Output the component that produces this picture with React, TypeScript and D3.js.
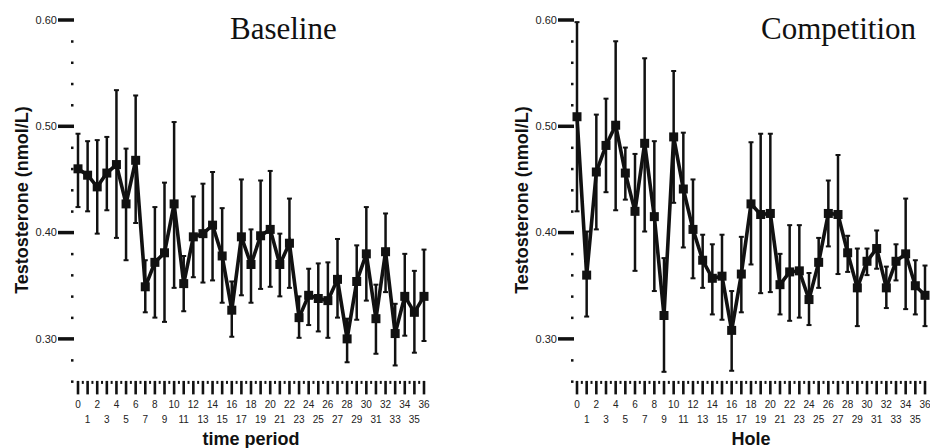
import React, { useRef, useEffect } from 'react';
import * as d3 from 'd3';

// time points / holes 0..36
const timePoints = d3.range(0, 37);

// Baseline panel: mean and error bar ends (nmol/L)
const baselineMean = [0.460, 0.454, 0.443, 0.456, 0.464, 0.427, 0.468, 0.349, 0.372, 0.381, 0.427, 0.352, 0.396, 0.399, 0.407, 0.378, 0.327, 0.396, 0.370, 0.397, 0.403, 0.370, 0.390, 0.320, 0.341, 0.338, 0.336, 0.356, 0.300, 0.354, 0.380, 0.319, 0.382, 0.305, 0.340, 0.325, 0.340];
const baselineUpper = [0.493, 0.486, 0.487, 0.490, 0.534, 0.479, 0.529, 0.374, 0.424, 0.447, 0.504, 0.378, 0.434, 0.446, 0.457, 0.423, 0.354, 0.450, 0.403, 0.449, 0.458, 0.399, 0.432, 0.340, 0.366, 0.371, 0.372, 0.394, 0.319, 0.388, 0.424, 0.351, 0.418, 0.333, 0.380, 0.364, 0.384];
const baselineLower = [0.424, 0.420, 0.399, 0.421, 0.395, 0.374, 0.409, 0.325, 0.320, 0.316, 0.348, 0.326, 0.358, 0.353, 0.355, 0.334, 0.302, 0.341, 0.334, 0.347, 0.349, 0.340, 0.348, 0.301, 0.313, 0.307, 0.301, 0.320, 0.278, 0.318, 0.336, 0.286, 0.344, 0.275, 0.303, 0.287, 0.298];

// Competition panel
const competitionMean = [0.509, 0.360, 0.457, 0.482, 0.501, 0.456, 0.420, 0.484, 0.415, 0.322, 0.490, 0.441, 0.403, 0.374, 0.357, 0.359, 0.308, 0.361, 0.427, 0.417, 0.418, 0.351, 0.363, 0.364, 0.337, 0.372, 0.418, 0.417, 0.381, 0.348, 0.373, 0.385, 0.348, 0.373, 0.380, 0.350, 0.341];
const competitionUpper = [0.598, 0.401, 0.511, 0.526, 0.580, 0.480, 0.474, 0.564, 0.486, 0.376, 0.552, 0.494, 0.450, 0.398, 0.389, 0.398, 0.345, 0.396, 0.485, 0.493, 0.493, 0.380, 0.407, 0.407, 0.362, 0.395, 0.449, 0.473, 0.397, 0.385, 0.385, 0.402, 0.368, 0.389, 0.432, 0.374, 0.369];
const competitionLower = [0.420, 0.321, 0.403, 0.438, 0.421, 0.431, 0.364, 0.401, 0.345, 0.269, 0.428, 0.386, 0.357, 0.348, 0.323, 0.318, 0.270, 0.325, 0.370, 0.343, 0.344, 0.323, 0.317, 0.320, 0.313, 0.348, 0.387, 0.361, 0.363, 0.312, 0.360, 0.366, 0.329, 0.355, 0.328, 0.323, 0.312];

const yMajorTicks = [0.30, 0.40, 0.50, 0.60];
const yLabel = 'Testosterone (nmol/L)';

const panels = [
  { title: 'Baseline', xLabel: 'time period', mean: baselineMean, upper: baselineUpper, lower: baselineLower },
  { title: 'Competition', xLabel: 'Hole', mean: competitionMean, upper: competitionUpper, lower: competitionLower },
];

// where each panel sits on the page
const layout = [
  { axisX: 73, x0: 78, x1: 424, yLabelX: 22, titleX: 230 },
  { axisX: 573, x0: 577, x1: 925, yLabelX: 522, titleX: 761 },
];

const W = 930;
const H = 448;
const INK = '#111';
const SANS = '"Liberation Sans", Arial, sans-serif';
const SERIF = '"Liberation Serif", "Times New Roman", serif';

const App = () => {
  const svgRef = useRef(null);

  useEffect(() => {
    const svg = d3.select(svgRef.current);
    svg.selectAll('*').remove();

    const yScale = d3.scaleLinear().domain([0.26, 0.60]).range([381.4, 20]);
    const yMinor = d3.range(0.26, 0.599, 0.02);

    panels.forEach((p, k) => {
      const L = layout[k];
      const xScale = d3.scaleLinear().domain([0, 36]).range([L.x0, L.x1]);
      const g = svg.append('g').attr('class', `panel-${k}`);

      // y minor dots
      g.append('g')
        .selectAll('rect')
        .data(yMinor.filter(v => !yMajorTicks.some(t => Math.abs(t - v) < 1e-6)))
        .join('rect')
        .attr('x', L.axisX - 2)
        .attr('y', d => yScale(d) - 1)
        .attr('width', 2.5)
        .attr('height', 2.5)
        .attr('fill', INK);

      // y major ticks + labels
      const yt = g.append('g').selectAll('g').data(yMajorTicks).join('g');
      yt.append('line')
        .attr('x1', L.axisX - 15).attr('x2', L.axisX + 1)
        .attr('y1', d => yScale(d)).attr('y2', d => yScale(d))
        .attr('stroke', INK).attr('stroke-width', 3.5);
      yt.append('text')
        .attr('x', L.axisX - 16)
        .attr('y', d => yScale(d))
        .attr('dy', '0.35em')
        .attr('text-anchor', 'end')
        .attr('font-family', SANS)
        .attr('font-size', 11)
        .attr('fill', '#222')
        .text(d => d.toFixed(2));

      // x ticks
      const base = yScale(0.26);
      g.append('g')
        .selectAll('line')
        .data(timePoints)
        .join('line')
        .attr('x1', d => xScale(d)).attr('x2', d => xScale(d))
        .attr('y1', base - 0.5).attr('y2', base + 13)
        .attr('stroke', INK).attr('stroke-width', 2.6);
      g.append('g')
        .selectAll('rect')
        .data(timePoints.slice(0, -1))
        .join('rect')
        .attr('x', d => xScale(d + 0.5) - 1)
        .attr('y', base - 0.5)
        .attr('width', 2)
        .attr('height', 3)
        .attr('fill', INK);

      g.append('g')
        .selectAll('text')
        .data(timePoints)
        .join('text')
        .attr('x', d => xScale(d))
        .attr('y', d => (d % 2 === 0 ? base + 27 : base + 42))
        .attr('text-anchor', 'middle')
        .attr('font-family', SANS)
        .attr('font-size', 10)
        .attr('fill', '#222')
        .text(d => d);

      // error bars
      const eb = g.append('g').attr('class', 'errorbars');
      eb.selectAll('line.v')
        .data(timePoints)
        .join('line')
        .attr('class', 'v')
        .attr('x1', d => xScale(d)).attr('x2', d => xScale(d))
        .attr('y1', d => yScale(p.upper[d])).attr('y2', d => yScale(p.lower[d]))
        .attr('stroke', INK).attr('stroke-width', 2.5);
      ['upper', 'lower'].forEach(key => {
        eb.selectAll(`line.c-${key}`)
          .data(timePoints)
          .join('line')
          .attr('class', `c-${key}`)
          .attr('x1', d => xScale(d) - 2.5).attr('x2', d => xScale(d) + 2.5)
          .attr('y1', d => yScale(p[key][d])).attr('y2', d => yScale(p[key][d]))
          .attr('stroke', INK).attr('stroke-width', 2);
      });

      // mean line
      const line = d3.line().x(d => xScale(d)).y(d => yScale(p.mean[d]));
      g.append('path')
        .datum(timePoints)
        .attr('d', line)
        .attr('fill', 'none')
        .attr('stroke', INK)
        .attr('stroke-width', 3.6)
        .attr('stroke-linejoin', 'miter');

      // square markers
      g.append('g')
        .selectAll('rect')
        .data(timePoints)
        .join('rect')
        .attr('x', d => xScale(d) - 4.5)
        .attr('y', d => yScale(p.mean[d]) - 4.5)
        .attr('width', 9)
        .attr('height', 9)
        .attr('fill', INK);

      // titles and axis labels
      g.append('text')
        .attr('x', L.titleX)
        .attr('y', 39)
        .attr('font-family', SERIF)
        .attr('font-size', 31)
        .attr('fill', INK)
        .text(p.title);

      g.append('text')
        .attr('x', (L.x0 + L.x1) / 2)
        .attr('y', 445)
        .attr('text-anchor', 'middle')
        .attr('font-family', SANS)
        .attr('font-weight', 'bold')
        .attr('font-size', 18)
        .attr('fill', INK)
        .text(p.xLabel);

      g.append('text')
        .attr('transform', `translate(${L.yLabelX},200) rotate(-90)`)
        .attr('text-anchor', 'middle')
        .attr('dy', '0.35em')
        .attr('font-family', SANS)
        .attr('font-weight', 'bold')
        .attr('font-size', 18)
        .attr('fill', INK)
        .text(yLabel);
    });
  }, []);

  return (
    <svg
      ref={svgRef}
      width={W}
      height={H}
      style={{ position: 'absolute', left: 0, top: 0, background: '#fff' }}
    />
  );
};

export default App;
